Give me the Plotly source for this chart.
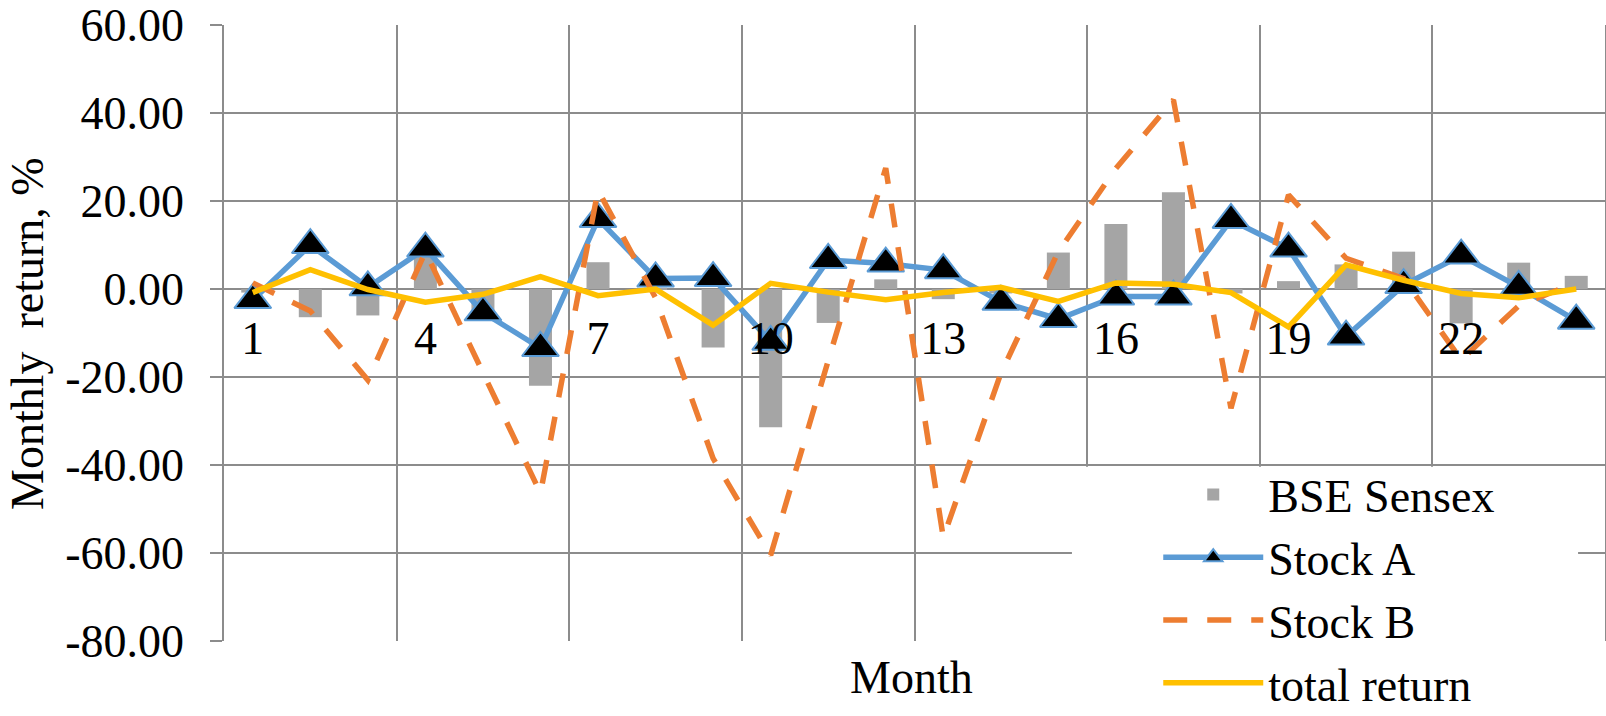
import plotly.graph_objects as go

# ---- data ----
months = list(range(1, 25))
bse_sensex = [-0.8, -6.4, -6.0, 9.4, -5.0, -22.0, 6.1, 0.3, -13.3, -31.4, -7.7, 2.2,
              -2.3, -1.0, 8.3, 14.8, 22.0, -1.0, 1.8, 5.6, 8.5, -7.8, 6.0, 3.0]
stock_a = [-2.5, 10.0, 0.4, 9.2, -5.3, -13.4, 15.9, 2.4, 2.5, -12.0, 6.6, 5.8,
           4.3, -2.9, -6.8, -1.7, -1.7, 15.7, 9.2, -10.8, 0.9, 7.6, 0.5, -7.2]
stock_b = [1.4, -5.0, -20.7, 8.5, -19.0, -46.4, 22.5, -2.0, -38.5, -60.5, -16.3, 27.5,
           -56.5, -19.2, 8.5, 27.4, 43.0, -27.1, 21.4, 7.0, 2.4, -16.1, -3.8, 1.5]
total_return = [-0.8, 4.4, -0.1, -3.0, -1.2, 2.8, -1.5, 0.0, -8.2, 1.3, -0.7, -2.4,
                -0.8, 0.4, -2.8, 1.4, 1.1, -0.8, -8.6, 5.5, 2.0, -1.0, -2.0, 0.0]

x_tick_vals = [1, 4, 7, 10, 13, 16, 19, 22]
x_tick_text = ["1", "4", "7", "10", "13", "16", "19", "22"]
x_grid_vals = [0.5, 3.5, 6.5, 9.5, 12.5, 15.5, 18.5, 21.5, 24.5]
y_tick_vals = [60, 40, 20, 0, -20, -40, -60, -80]
y_tick_text = ["60.00", "40.00", "20.00", "0.00", "-20.00", "-40.00", "-60.00", "-80.00"]

FONT = "'Liberation Serif', 'Times New Roman', Times, serif"
GRID = "#8c8c8c"

fig = go.Figure()
fig.add_trace(go.Bar(x=months, y=bse_sensex, name="BSE Sensex", width=0.4,
                     marker=dict(color="#a5a5a5", line=dict(width=0))))
fig.add_trace(go.Scatter(x=months, y=stock_a, name="Stock A", mode="lines+markers",
                         line=dict(color="#5b9bd5", width=5.5),
                         marker=dict(symbol="triangle-up", size=32, color="black",
                                     line=dict(color="#5b9bd5", width=2))))
fig.add_trace(go.Scatter(x=months, y=stock_b, name="Stock B", mode="lines",
                         line=dict(color="#ed7d31", width=5.5, dash="24px,20px")))
fig.add_trace(go.Scatter(x=months, y=total_return, name="total return", mode="lines",
                         line=dict(color="#ffc000", width=5.5)))

zero_pos = (0 - (-80)) / (60.02 - (-80))

fig.update_layout(
    width=1606, height=716,
    margin=dict(l=224, r=1, t=25, b=75, autoexpand=False),
    paper_bgcolor="white", plot_bgcolor="white",
    font=dict(family=FONT, size=46, color="black"),
    showlegend=True,
    legend=dict(x=0.6765, y=0.297, xanchor="left", yanchor="top",
                bgcolor="rgba(0,0,0,0)", itemwidth=100,
                font=dict(family=FONT, size=46, color="black"),
                traceorder="normal", itemclick=False),
    xaxis=dict(range=[0.5, 24.5], anchor="free", position=zero_pos, automargin=False,
               tickmode="array", tickvals=x_tick_vals, ticktext=x_tick_text,
               ticks="", showgrid=False, zeroline=False, showline=False,
               ticklabelstandoff=18,
               tickfont=dict(family=FONT, size=46, color="black"),
               minor=dict(tickmode="array", tickvals=x_grid_vals, showgrid=True,
                          gridcolor=GRID, gridwidth=1.6, ticks="")),
    yaxis=dict(range=[-80, 60.02], automargin=False, tickmode="array", tickvals=y_tick_vals,
               ticktext=y_tick_text, showgrid=True, gridcolor=GRID, gridwidth=1.6,
               zeroline=False, showline=True, linecolor=GRID, linewidth=1.6,
               mirror=True, ticks="outside", ticklen=12, tickwidth=1.6,
               tickcolor=GRID, ticklabelstandoff=17, ticklabeloverflow="allow",
               tickfont=dict(family=FONT, size=46, color="black")),
    shapes=[dict(type="rect", xref="paper", yref="paper",
                 x0=0.614, x1=0.9805, y0=-0.2, y1=0.283,
                 fillcolor="white", line=dict(width=0), layer="above")],
    annotations=[
        dict(text="Month", xref="paper", yref="paper", x=0.498, y=-0.06,
             xanchor="center", yanchor="middle", showarrow=False,
             font=dict(family=FONT, size=46, color="black")),
        dict(text="Monthly\u00a0 return, %", xref="paper", yref="paper",
             x=-0.1427, y=0.5, xanchor="center", yanchor="middle",
             textangle=-90, showarrow=False,
             font=dict(family=FONT, size=46, color="black")),
    ],
)

fig.write_html("out.html", config={"displayModeBar": False},
               post_script="document.body.style.margin='0';")
